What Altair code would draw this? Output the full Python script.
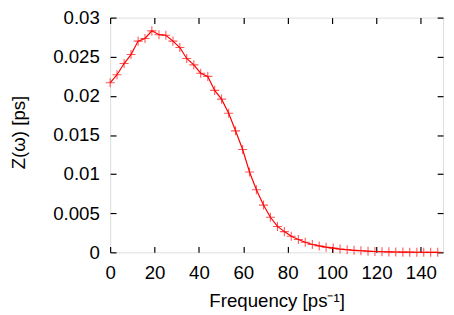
import altair as alt
import pandas as pd

freq = [0.0, 3.1, 6.3, 9.4, 12.6, 15.7, 18.8, 22.0, 25.1, 28.3, 31.4, 34.5,
        37.7, 40.8, 44.0, 47.1, 50.2, 53.4, 56.5, 59.7, 62.8, 65.9, 69.1, 72.2,
        75.4, 78.5, 81.6, 84.8, 87.9, 91.1, 94.2, 97.3, 100.5, 103.6, 106.8, 109.9,
        113.0, 116.2, 119.3, 122.5, 125.6, 128.7, 131.9, 135.0, 138.2, 141.3, 144.4, 147.6]
zval = [0.02167, 0.0227, 0.02413, 0.02528, 0.0270, 0.02733, 0.02831, 0.02782,
        0.02775, 0.0270, 0.02618, 0.02478, 0.02396, 0.0229, 0.02249, 0.02070,
        0.01958, 0.01778, 0.01553, 0.01315, 0.01027, 0.0080, 0.00604, 0.00448,
        0.00331, 0.00265, 0.00206, 0.00165, 0.00129, 0.0010, 0.00082, 0.00066,
        0.00054, 0.00042, 0.00033, 0.00026, 0.0002, 0.00015, 0.00011, 0.00008,
        0.00006, 0.00004, 0.00003, 0.00002, 0.00001, 0.00001, 0.0, 0.0]
x_ticks = [0, 20, 40, 60, 80, 100, 120, 140]
y_ticks = [0, 0.005, 0.01, 0.015, 0.02, 0.025, 0.03]

df = pd.DataFrame({"f": freq, "z": zval})

W, H = 339, 239
FONT = "Liberation Sans"
FS = 19

xs = alt.Scale(domain=[0, 150], nice=False, zero=False)
ys = alt.Scale(domain=[0, 0.03], nice=False)

main_x = alt.Axis(values=x_ticks, orient="bottom", ticks=False, tickSize=0, domain=False,
                  grid=False, labelFont=FONT, labelFontSize=FS, labelColor="black",
                  labelPadding=26.5, labelBaseline="alphabetic", labelFlush=False,
                  title="Frequency [ps⁻¹]", titleFont=FONT, titleFontSize=FS,
                  titleFontWeight="normal", titleColor="black",
                  titleBaseline="alphabetic", titleY=55, titleX=W / 2, titleAlign="center")
main_y = alt.Axis(values=y_ticks, orient="left", ticks=False, tickSize=0, domain=False,
                  grid=False, labelFont=FONT, labelFontSize=FS, labelColor="black",
                  labelPadding=11, labelBaseline="middle", labelFlush=False,
                  labelExpr="format(datum.value, '~g')",
                  title="Z(ω) [ps]", titleFont=FONT, titleFontSize=FS,
                  titleFontWeight="normal", titleColor="black", titleAngle=270,
                  titleBaseline="alphabetic", titleX=-87, titleY=H / 2 - 3, titleAlign="center")

def tick_axis(vals, orient, off):
    return alt.Axis(values=vals, orient=orient, offset=off, ticks=True, tickSize=6,
                    tickWidth=1.2, tickColor="black", domain=False, labels=False,
                    grid=False, title=None)

base = alt.Chart(df)

line = base.mark_line(color="#ff0000", strokeWidth=1.2).encode(
    x=alt.X("f:Q", scale=xs, axis=main_x),
    y=alt.Y("z:Q", scale=ys, axis=main_y),
)

pts = base.mark_point(
    shape="M-1,0H1M0,-1V1", size=85, filled=False, stroke="#ff0000",
    strokeWidth=1.1, opacity=0.65,
).encode(
    x=alt.X("f:Q", scale=xs, axis=None),
    y=alt.Y("z:Q", scale=ys, axis=None),
)

inner1 = base.mark_point(opacity=0).encode(
    x=alt.X("f:Q", scale=xs, axis=tick_axis(x_ticks, "top", -H)),
    y=alt.Y("z:Q", scale=ys, axis=tick_axis(y_ticks, "right", -W)),
)
inner2 = base.mark_point(opacity=0).encode(
    x=alt.X("f:Q", scale=xs, axis=tick_axis(x_ticks, "bottom", -H)),
    y=alt.Y("z:Q", scale=ys, axis=tick_axis(y_ticks, "left", -W)),
)

chart = alt.layer(line, pts, inner1, inner2).resolve_scale(
    x="shared", y="shared"
).resolve_axis(
    x="independent", y="independent"
).properties(
    width=W, height=H,
    autosize=alt.AutoSizeParams(type="none"),
    padding={"left": 104, "top": 7, "right": 3, "bottom": 61},
).configure_view(
    stroke="black", strokeWidth=1.2
).configure(background="white")

chart.save("out.html", embed_options={"renderer": "svg", "actions": False})
